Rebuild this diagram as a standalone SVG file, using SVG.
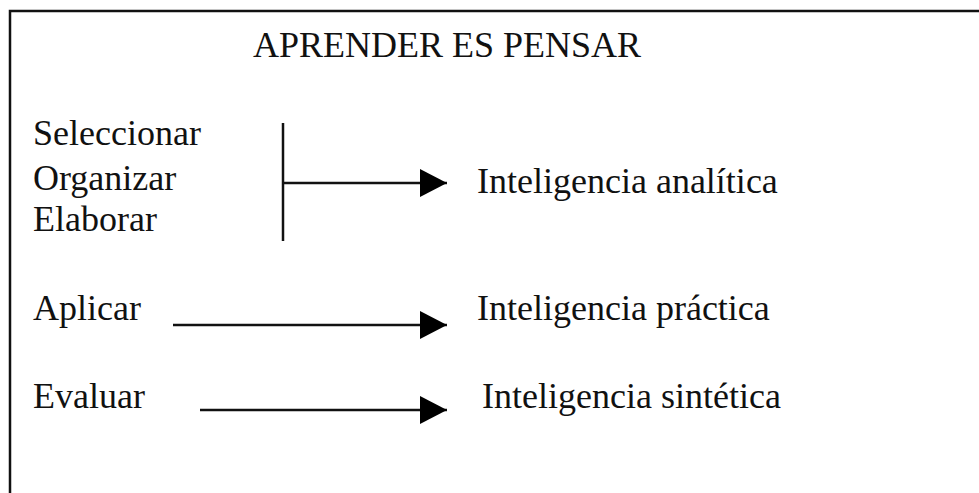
<svg xmlns="http://www.w3.org/2000/svg" width="979" height="493" viewBox="0 0 979 493">
<defs>
<style>
text{font-family:"Liberation Serif","Times New Roman",serif;font-size:36px;fill:#111}
.ln{stroke:#111;stroke-width:2.5;fill:none}
</style>
<marker id="ah" markerUnits="userSpaceOnUse" markerWidth="28" markerHeight="28" refX="27" refY="14" orient="auto">
<path d="M0,0 L27,14 L0,28 Z" fill="#000"/>
</marker>
</defs>
<rect width="979" height="493" fill="#fff"/>
<path class="ln" d="M10,493 V11 H979" stroke-width="3"/>
<g id="title"><text x="253" y="57">APRENDER ES PENSAR</text></g>
<g id="procesos1">
<text x="33" y="145">Seleccionar</text>
<text x="33" y="190">Organizar</text>
<text x="33" y="231">Elaborar</text>
</g>
<g id="aplicar"><text x="33" y="320">Aplicar</text></g>
<g id="evaluar"><text x="33" y="408">Evaluar</text></g>
<g id="analitica"><text x="477" y="193">Inteligencia analítica</text></g>
<g id="practica"><text x="477" y="320">Inteligencia práctica</text></g>
<g id="sintetica"><text x="482" y="408">Inteligencia sintética</text></g>
<g id="connectors">
<line class="ln" x1="283" y1="123" x2="283" y2="241"/>
<line class="ln" x1="283" y1="183" x2="447" y2="183" marker-end="url(#ah)"/>
<line class="ln" x1="173" y1="325" x2="447" y2="325" marker-end="url(#ah)"/>
<line class="ln" x1="200" y1="410" x2="447" y2="410" marker-end="url(#ah)"/>
</g>
</svg>
